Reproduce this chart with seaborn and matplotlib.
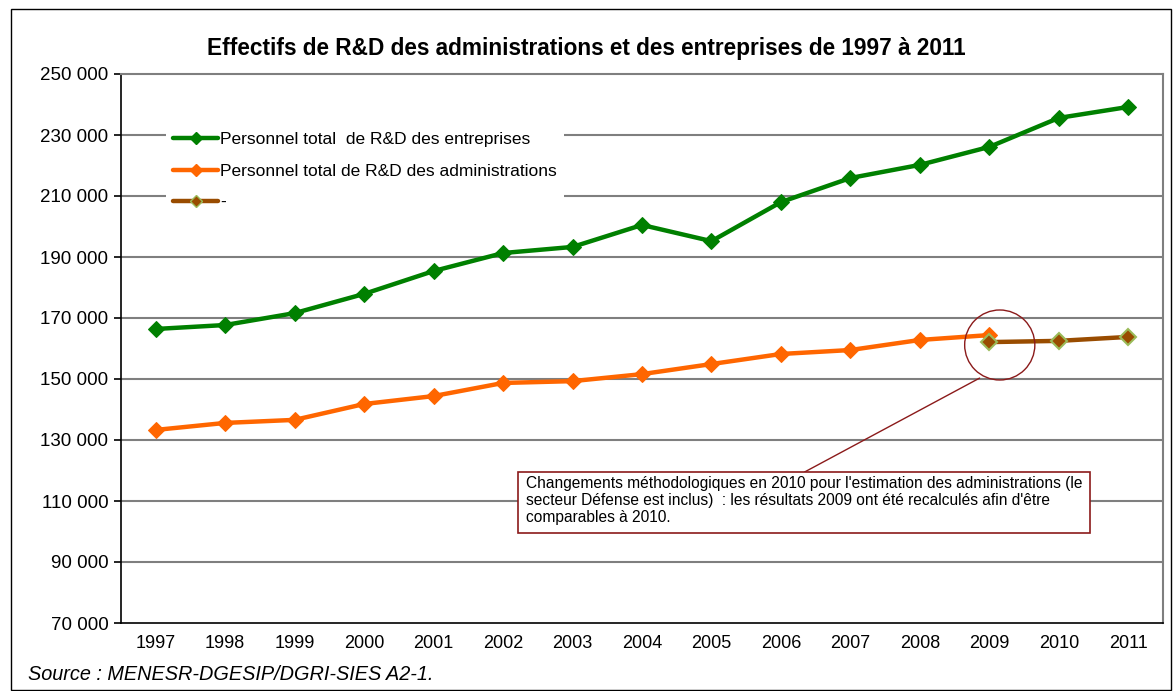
import numpy as np
import pandas as pd
import seaborn as sns
import matplotlib.pyplot as plt
from matplotlib.patches import Ellipse, Rectangle
from matplotlib.lines import Line2D

years = list(range(1997, 2012))
entreprises = [166400, 167700, 171600, 177900, 185400, 191300, 193300, 200500,
               195200, 208000, 215900, 220200, 226100, 235600, 239200]
administrations = [133300, 135600, 136600, 141800, 144400, 148700, 149300, 151600,
                   154900, 158200, 159500, 162800, 164400]
admin_new_years = [2009, 2010, 2011]
admin_new = [162100, 162500, 163800]

lab_ent = "Personnel total  de R&D des entreprises"
lab_adm = "Personnel total de R&D des administrations"
lab_new = "-"

df_ent = pd.DataFrame({"annee": years, "valeur": entreprises})
df_adm = pd.DataFrame({"annee": years[:len(administrations)], "valeur": administrations})
df_new = pd.DataFrame({"annee": admin_new_years, "valeur": admin_new})

sns.set_style("white")
plt.rcParams['font.family'] = ['Liberation Sans', 'DejaVu Sans']
plt.rcParams['text.color'] = 'black'
plt.rcParams['xtick.color'] = 'black'
plt.rcParams['ytick.color'] = 'black'

fig = plt.figure(figsize=(11.73, 6.91), dpi=100)
ax = fig.add_axes([121 / 1173, 1 - 623 / 691, (1163 - 121) / 1173, (623 - 74) / 691])

green = "#008000"
orange = "#FF6600"
brown = "#994C00"

sns.lineplot(data=df_ent, x="annee", y="valeur", ax=ax, color=green, lw=3.2,
             marker="D", markersize=8, markeredgecolor=green, zorder=3)
sns.lineplot(data=df_adm, x="annee", y="valeur", ax=ax, color=orange, lw=3.2,
             marker="D", markersize=8, markeredgecolor=orange, zorder=3)
sns.lineplot(data=df_new, x="annee", y="valeur", ax=ax, color=brown, lw=3.2,
             marker="D", markersize=8.5, markeredgecolor="#9BBB59", markeredgewidth=1.5,
             zorder=4)

ax.set_xlim(1996.5, 2011.5)
ax.set_ylim(70000, 250000)
yt = np.arange(70000, 250001, 20000)
ax.set_yticks(yt)
ax.set_yticklabels([f"{v:,}".replace(",", " ") for v in yt], fontsize=13.5)
ax.set_xticks(years)
ax.set_xticklabels([str(y) for y in years], fontsize=13)
ax.set_xticks(np.arange(1996.5, 2012, 1), minor=True)
ax.tick_params(axis="x", which="major", length=0, pad=9)
ax.tick_params(axis="x", which="minor", length=5, width=1.2, direction="out", color="black")
ax.tick_params(axis="y", length=5, width=1.2, direction="out", color="black", left=True, pad=4)
ax.set_xlabel("")
ax.set_ylabel("")

for v in yt[1:-1]:
    ax.axhline(v, color="#7f7f7f", lw=1.5, zorder=1)
for s in ["left", "bottom"]:
    ax.spines[s].set_color("black")
    ax.spines[s].set_linewidth(1.2)
for s in ["right", "top"]:
    ax.spines[s].set_color("#7f7f7f")
    ax.spines[s].set_linewidth(1.5)

# legend
handles = [
    Line2D([], [], color=green, lw=3.2, marker="D", markersize=6.5, markeredgecolor=green),
    Line2D([], [], color=orange, lw=3.2, marker="D", markersize=6.5, markeredgecolor=orange),
    Line2D([], [], color=brown, lw=3.2, marker="D", markersize=6.5,
           markeredgecolor="#9BBB59", markeredgewidth=1),
]
leg = ax.legend(handles, [lab_ent, lab_adm, lab_new], loc="upper left",
                bbox_to_anchor=(0.035, 0.923), fontsize=12.5, frameon=True,
                handlelength=2.6, handletextpad=0.1, labelspacing=0.95,
                borderpad=0.4)
leg.get_frame().set_edgecolor("none")
leg.get_frame().set_facecolor("white")
leg.get_frame().set_alpha(1)
leg.set_zorder(5)

# annotation
ax.add_patch(Ellipse((2009.15, 161150), 1.01, 22950, fill=False,
                     edgecolor="#8B1A1A", lw=1, zorder=6))
ax.plot([2008.86, 2006.34], [150300, 119500], color="#8B1A1A", lw=1, zorder=6)
ax.add_patch(Rectangle((2002.22, 99500), 2010.45 - 2002.22, 20000, facecolor="white",
                       edgecolor="#8B1A1A", lw=1.2, zorder=6))
ax.text(2002.33, 118300,
        "Changements méthodologiques en 2010 pour l'estimation des administrations (le\n"
        "secteur Défense est inclus)  : les résultats 2009 ont été recalculés afin d'être\n"
        "comparables à 2010.",
        fontsize=11.2, va="top", ha="left", linespacing=1.2, zorder=7)

fig.text(0.5, 1 - 48 / 691, "Effectifs de R&D des administrations et des entreprises de 1997 à 2011",
         ha="center", va="center", fontsize=16.3, fontweight="bold")
fig.text(28 / 1173, 1 - 675 / 691, "Source : MENESR-DGESIP/DGRI-SIES A2-1.",
         ha="left", va="center", fontsize=14.3, style="italic")

fig.add_artist(Rectangle((11 / 1173, 1 / 691), 1160 / 1173, 681 / 691,
                         transform=fig.transFigure, fill=False, edgecolor="black", lw=1))

fig.savefig("out.png", dpi=100)
